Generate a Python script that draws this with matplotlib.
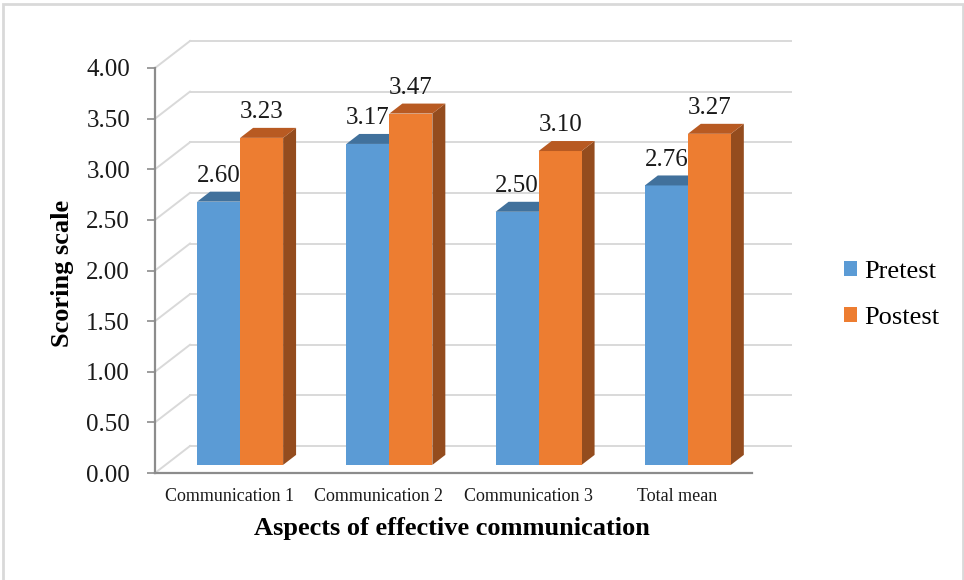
import matplotlib
matplotlib.use("Agg")
import matplotlib.pyplot as plt
from matplotlib.patches import Polygon, Rectangle
from matplotlib.lines import Line2D
from matplotlib.font_manager import FontProperties
import numpy as np

categories = ["Communication 1", "Communication 2", "Communication 3", "Total mean"]
pretest = [2.60, 3.17, 2.50, 2.76]
postest = [3.23, 3.47, 3.10, 3.27]
series_names = ["Pretest", "Postest"]
y_ticks = [0.0, 0.5, 1.0, 1.5, 2.0, 2.5, 3.0, 3.5, 4.0]

blue = "#5B9BD5"
blue_top = "#41719C"
orange = "#ED7D31"
orange_top = "#B85A22"
orange_side = "#944C1E"
grid_col = "#D9D9D9"
axis_col = "#8C8C8C"

plt.rcParams["font.family"] = ["Liberation Serif", "DejaVu Serif"]

W, H = 964, 580
fig = plt.figure(figsize=(W / 100, H / 100), dpi=100)

# outer chart frame
fig.patches.append(Rectangle((2.5 / W, -0.01), (963 - 2.5) / W, (H - 3.5) / H + 0.01,
                             transform=fig.transFigure, fill=False,
                             edgecolor="#D9D9D9", linewidth=2.0))

left, right, bottom, top = 155, 752, 473, 68
ax = fig.add_axes([left / W, (H - bottom) / H, (right - left) / W, (bottom - top) / H])
n = len(categories)
ax.set_xlim(0, n)
ax.set_ylim(0, 4)

# depth of the 3-D box in data units
px_x = (right - left) / n
px_y = (bottom - top) / 4.0
DX = 35 / px_x
DY = 27 / px_y

# back wall gridlines and side-wall diagonals
for v in y_ticks:
    ax.add_line(Line2D([DX, n + DX * 1.1], [v + DY, v + DY], color=grid_col,
                       linewidth=1.4, clip_on=False, zorder=1))
    ax.add_line(Line2D([0, DX], [v, v + DY], color=grid_col,
                       linewidth=1.4, clip_on=False, zorder=1))

# bars
f0, f1 = 0.30, 0.67
bw = 43 / px_x
for i in range(n):
    c = i + 0.5
    for j, (vals, front, topc, side) in enumerate([
            (pretest, blue, blue_top, blue_top),
            (postest, orange, orange_top, orange_side)]):
        v = vals[i]
        x0 = c - bw + j * bw + f0 * DX
        y0 = f0 * DY
        x1 = x0 + bw
        ddx = (f1 - f0) * DX
        ddy = (f1 - f0) * DY
        # side face
        ax.add_patch(Polygon([(x1, y0), (x1 + ddx, y0 + ddy), (x1 + ddx, y0 + v + ddy), (x1, y0 + v)],
                             closed=True, facecolor=side, edgecolor="none", zorder=3 + 2 * j, clip_on=False))
        # front face
        ax.add_patch(Polygon([(x0, y0), (x1, y0), (x1, y0 + v), (x0, y0 + v)],
                             closed=True, facecolor=front, edgecolor="none", zorder=3 + 2 * j, clip_on=False))
        # top face
        ax.add_patch(Polygon([(x0, y0 + v), (x1, y0 + v), (x1 + ddx, y0 + v + ddy), (x0 + ddx, y0 + v + ddy)],
                             closed=True, facecolor=topc, edgecolor="none", zorder=3 + 2 * j, clip_on=False))
        # value label
        ax.annotate(f"{v:.2f}", xy=(x0 + bw / 2, y0 + v + ddy), xytext=(0, 7),
                    textcoords="offset points", ha="center", va="baseline",
                    fontsize=18, color="#1a1a1a", zorder=10, annotation_clip=False)

# axes styling
for s in ["top", "right"]:
    ax.spines[s].set_visible(False)
for s in ["left", "bottom"]:
    ax.spines[s].set_color(axis_col)
    ax.spines[s].set_linewidth(1.6)
ax.patch.set_visible(False)

ax.set_yticks(y_ticks)
ax.set_yticklabels([f"{t:.2f}" for t in y_ticks], fontsize=18, color="#1a1a1a")
ax.tick_params(axis="y", direction="out", length=6, width=1.2, color=axis_col, pad=12)
ax.set_xticks(np.arange(n) + 0.5)
ax.set_xticklabels(categories, fontsize=13, color="#1a1a1a")
ax.tick_params(axis="x", length=0, pad=11)

ax.set_ylabel("Scoring scale", fontsize=19, fontweight="bold", labelpad=10)
ax.set_xlabel("Aspects of effective communication", fontsize=19, fontweight="bold", labelpad=12)
ax.xaxis.set_label_coords((452 - left) / (right - left), -(528 - bottom) / (bottom - top))
ax.yaxis.set_label_coords(-(155 - 62) / (right - left), (bottom - 273) / (bottom - top))
ax.xaxis.label.set_va("center")
ax.yaxis.label.set_va("center")

handles = [Rectangle((0, 0), 1, 1, facecolor=blue), Rectangle((0, 0), 1, 1, facecolor=orange)]
legend_font = FontProperties(family=["Liberation Serif", "DejaVu Serif"], size=19)
fig.legend(handles, series_names, loc="center left", bbox_to_anchor=(820 / W, 1 - 295 / H),
           frameon=False, prop=legend_font, handlelength=0.5, handleheight=0.5,
           handletextpad=0.28, labelspacing=0.9)

fig.savefig("out.png", dpi=100, facecolor="white")
